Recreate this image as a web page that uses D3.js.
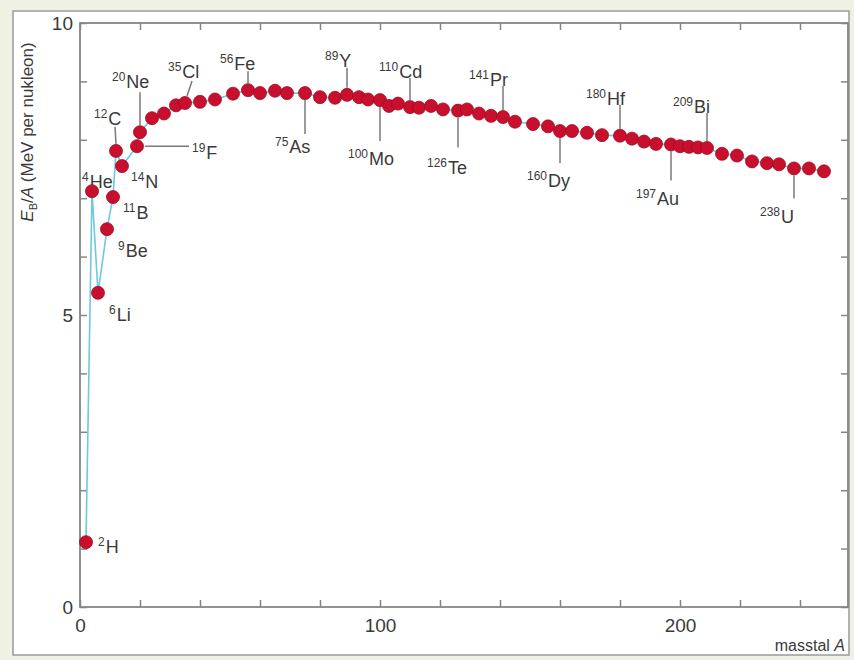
<!DOCTYPE html>
<html>
<head>
<meta charset="utf-8">
<script src="https://cdn.jsdelivr.net/npm/d3@7"></script>
<style>
  html, body { margin: 0; padding: 0; background: #eef1e3; }
  svg { display: block; }
  text { font-family: "Liberation Sans", Arial, Helvetica, sans-serif; fill: #3a3a3a; }
</style>
</head>
<body>
<svg id="chart" width="854" height="660"></svg>
<script>
// Mass number A of each plotted nucleus
const massNumbers = [2, 4, 6, 9, 11, 12, 14, 19, 20, 24, 28, 32, 35, 40, 45, 51, 56, 60, 65, 69,
  75, 80, 85, 89, 93, 96, 100, 103, 106, 110, 113, 117, 121, 126, 129, 133, 137, 141, 145, 151,
  156, 160, 164, 169, 174, 180, 184, 188, 192, 197, 200, 203, 206, 209, 214, 219, 224, 229, 233,
  238, 243, 248];

// Binding energy per nucleon E_B/A (MeV)
const bindingPerNucleon = [1.11, 7.12, 5.38, 6.47, 7.02, 7.81, 7.55, 7.89, 8.13, 8.37, 8.45, 8.59,
  8.63, 8.65, 8.69, 8.79, 8.85, 8.80, 8.84, 8.80, 8.80, 8.73, 8.72, 8.77, 8.73, 8.69, 8.68, 8.58,
  8.62, 8.56, 8.55, 8.58, 8.52, 8.50, 8.52, 8.45, 8.41, 8.39, 8.31, 8.27, 8.23, 8.15, 8.15, 8.12,
  8.08, 8.07, 8.02, 7.97, 7.93, 7.92, 7.89, 7.88, 7.87, 7.86, 7.76, 7.73, 7.63, 7.60, 7.58, 7.51,
  7.51, 7.46];

// Named nuclides and their mass numbers
const labelSymbols = ["H", "He", "Li", "Be", "B", "C", "N", "F", "Ne", "Cl", "Fe", "As", "Y",
  "Mo", "Cd", "Te", "Pr", "Dy", "Hf", "Au", "Bi", "U"];
const labelMasses = [2, 4, 6, 9, 11, 12, 14, 19, 20, 35, 56, 75, 89, 100, 110, 126, 141, 160,
  180, 197, 209, 238];

// Axis tick values and which ones carry a label
const xTickValues = d3.range(0, 260, 20);
const xTickLabels = [0, 100, 200];
const yTickValues = d3.range(0, 11, 1);
const yTickLabels = [0, 5, 10];

// Placement of each nuclide label relative to its dot (pixels):
// text start / baseline offset and optional leader line [x1, y1, x2, y2]
const labelLayout = {
  H:  { dx: 12,  dy: 11 },
  He: { dx: -10, dy: -3 },
  Li: { dx: 11,  dy: 28 },
  Be: { dx: 11,  dy: 28 },
  B:  { dx: 10,  dy: 22 },
  C:  { dx: -22, dy: -26, leader: [0, -7, -1, -24] },
  N:  { dx: 9,   dy: 22 },
  F:  { dx: 55,  dy: 13,  leader: [8, 0, 52, 0] },
  Ne: { dx: -28, dy: -44, leader: [0, -7, 0, -40] },
  Cl: { dx: -17, dy: -25, leader: [2, -7, 7, -22] },
  Fe: { dx: -28, dy: -20, leader: [0, -7, 0, -19] },
  As: { dx: -30, dy: 60,  leader: [0, 7, 0, 41] },
  Y:  { dx: -22, dy: -28, leader: [0, -7, 0, -27] },
  Mo: { dx: -32, dy: 65,  leader: [0, 7, 0, 41] },
  Cd: { dx: -31, dy: -29, leader: [0, -7, 0, -29] },
  Te: { dx: -31, dy: 63,  leader: [0, 7, 0, 37] },
  Pr: { dx: -34, dy: -31, leader: [0, -7, 0, -31] },
  Dy: { dx: -33, dy: 56,  leader: [0, 7, 0, 32] },
  Hf: { dx: -34, dy: -31, leader: [0, -7, 0, -31] },
  Au: { dx: -35, dy: 61,  leader: [0, 7, 0, 36] },
  Bi: { dx: -34, dy: -35, leader: [0, -7, 0, -35] },
  U:  { dx: -34, dy: 55,  leader: [0, 7, 0, 30] }
};

const svg = d3.select("#chart");
const plot = { left: 80, right: 848, top: 23, bottom: 607 };
const axisColor = "#858585";

// White panel with grey border
svg.append("rect")
  .attr("x", 13).attr("y", 11).attr("width", 836).attr("height", 644)
  .attr("fill", "#fff").attr("stroke", "#9a9a9a").attr("stroke-width", 1.5);

const x = d3.scaleLinear().domain([0, 256]).range([plot.left, plot.right]);
const y = d3.scaleLinear().domain([0, 10]).range([plot.bottom, plot.top]);

const points = massNumbers.map((a, i) => ({ a, e: bindingPerNucleon[i] }));

// Axes on all four sides with inward ticks
function styleAxis(g) {
  g.select(".domain").remove();
  g.selectAll(".tick line").attr("stroke", axisColor).attr("stroke-width", 1.5);
  g.selectAll(".tick text").style("font-size", "19px").attr("fill", "#3a3a3a");
}

svg.append("g")
  .attr("transform", `translate(0,${plot.bottom})`)
  .call(d3.axisBottom(x).tickValues(xTickValues).tickSizeInner(-7).tickSizeOuter(0).tickPadding(12)
    .tickFormat(d => xTickLabels.includes(d) ? d : ""))
  .call(styleAxis);

svg.append("g")
  .attr("transform", `translate(0,${plot.top})`)
  .call(d3.axisTop(x).tickValues(xTickValues).tickSizeInner(-7).tickSizeOuter(0).tickFormat(""))
  .call(styleAxis);

svg.append("g")
  .attr("transform", `translate(${plot.left},0)`)
  .call(d3.axisLeft(y).tickValues(yTickValues).tickSizeInner(-7).tickSizeOuter(0).tickPadding(7)
    .tickFormat(d => yTickLabels.includes(d) ? d : ""))
  .call(styleAxis);

svg.append("g")
  .attr("transform", `translate(${plot.right},0)`)
  .call(d3.axisRight(y).tickValues(yTickValues).tickSizeInner(-7).tickSizeOuter(0).tickFormat(""))
  .call(styleAxis);

// Plot frame
svg.append("rect")
  .attr("x", plot.left).attr("y", plot.top)
  .attr("width", plot.right - plot.left).attr("height", plot.bottom - plot.top)
  .attr("fill", "none").attr("stroke", axisColor).attr("stroke-width", 1.8);

// Axis titles
const yTitle = svg.append("text")
  .attr("transform", "translate(33,132) rotate(-90)")
  .attr("text-anchor", "middle")
  .style("font-size", "17px");
yTitle.append("tspan").attr("font-style", "italic").text("E");
yTitle.append("tspan").attr("font-size", "11px").attr("dy", 4).text("B");
yTitle.append("tspan").attr("dy", -4).text("/");
yTitle.append("tspan").attr("font-style", "italic").text("A");
yTitle.append("tspan").text(" (MeV per nukleon)");

const xTitle = svg.append("text")
  .attr("x", 845).attr("y", 651)
  .attr("text-anchor", "end")
  .style("font-size", "16px");
xTitle.append("tspan").text("masstal ");
xTitle.append("tspan").attr("font-style", "italic").text("A");

// Connecting line through the nuclei in order of A
svg.append("path")
  .datum(points)
  .attr("fill", "none")
  .attr("stroke", "#6ec8de")
  .attr("stroke-width", 1.6)
  .attr("d", d3.line().x(d => x(d.a)).y(d => y(d.e)));

// Nuclide labels with leader lines
const labels = labelSymbols.map((s, i) => {
  const a = labelMasses[i];
  const p = points.find(q => q.a === a);
  return { sym: s, a, e: p.e, layout: labelLayout[s] };
});

const labelG = svg.append("g");
labels.forEach(l => {
  const cx = x(l.a), cy = y(l.e), L = l.layout;
  if (L.leader) {
    labelG.append("line")
      .attr("x1", cx + L.leader[0]).attr("y1", cy + L.leader[1])
      .attr("x2", cx + L.leader[2]).attr("y2", cy + L.leader[3])
      .attr("stroke", "#7a7a7a").attr("stroke-width", 1.5);
  }
  const t = labelG.append("text")
    .attr("x", cx + L.dx).attr("y", cy + L.dy)
    .style("font-size", "18px");
  t.append("tspan").attr("font-size", "12px").attr("dy", -7).text(l.a);
  t.append("tspan").attr("dy", 7).attr("dx", 1).text(l.sym);
});

// Data points
svg.append("g")
  .selectAll("circle")
  .data(points)
  .join("circle")
  .attr("cx", d => x(d.a))
  .attr("cy", d => y(d.e))
  .attr("r", 6.5)
  .attr("fill", "#c8102e")
  .attr("stroke", "#a00a22")
  .attr("stroke-width", 0.8);
</script>
</body>
</html>
